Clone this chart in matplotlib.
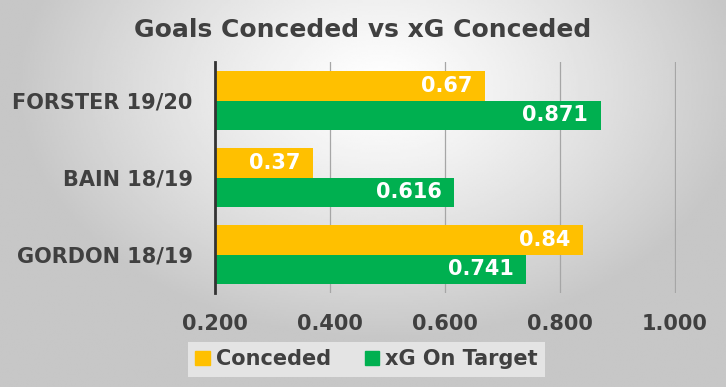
import numpy as np
import matplotlib
matplotlib.use('Agg')
import matplotlib.pyplot as plt
from matplotlib.patches import Patch

players = ['GORDON 18/19', 'BAIN 18/19', 'FORSTER 19/20']
conceded = [0.84, 0.37, 0.67]
xg_on_target = [0.741, 0.616, 0.871]
xticks = [0.2, 0.4, 0.6, 0.8, 1.0]

yellow = '#FFC000'
green = '#00B050'
txt = '#404040'

plt.rcParams['font.family'] = 'DejaVu Sans'
plt.rcParams['font.weight'] = 'bold'

fig = plt.figure(figsize=(7.26, 3.87), dpi=100)

# grey radial background, brightest near top centre
bg = fig.add_axes([0, 0, 1, 1], zorder=-10)
gx, gy = np.meshgrid(np.linspace(-1, 1, 400), np.linspace(-1, 1, 220))
r = np.sqrt(((gx - 0.05) / 1.0) ** 2 + ((gy + 0.55) / 1.3) ** 2)
shade = np.clip(1.0 - 0.22 * r ** 1.2, 0.78, 1.0)
bg.imshow(shade, cmap='gray', vmin=0, vmax=1, aspect='auto', extent=[0, 1, 0, 1])
bg.axis('off')

ax = fig.add_axes([215 / 726, 1 - 293 / 387, (676 - 215) / 726, 231 / 387])
ax.patch.set_alpha(0)

y = np.arange(len(players))
h = 0.38
b1 = ax.barh(y + h / 2, conceded, height=h, color=yellow, label='Conceded', zorder=3)
b2 = ax.barh(y - h / 2, xg_on_target, height=h, color=green, label='xG On Target', zorder=3)

for bars, vals in [(b1, conceded), (b2, xg_on_target)]:
    for bar, v in zip(bars, vals):
        ax.annotate(f'{v:g}', (v, bar.get_y() + bar.get_height() / 2),
                    xytext=(-9, 0), textcoords='offset points', ha='right', va='center',
                    color='white', fontsize=15, fontweight='bold', zorder=4)

ax.set_xlim(0.2, 1.002)
ax.set_ylim(-0.5, 2.5)
ax.set_xticks(xticks)
ax.set_xticklabels([f'{t:.3f}' for t in xticks])
ax.set_yticks(y)
ax.set_yticklabels(players)
ax.tick_params(axis='x', length=0, pad=15, labelsize=15, labelcolor=txt)
ax.tick_params(axis='y', length=0, pad=16, labelsize=15, labelcolor=txt)
ax.grid(axis='x', color='#a6a6a6', linewidth=0.9, zorder=0)
for s in ['top', 'right', 'bottom']:
    ax.spines[s].set_visible(False)
ax.spines['left'].set_color('#333333')
ax.spines['left'].set_linewidth(2)
ax.spines['left'].set_zorder(5)

fig.text(0.5, 1 - 30 / 387, 'Goals Conceded vs xG Conceded', ha='center', va='center',
         fontsize=18, fontweight='bold', color=txt)

handles = [Patch(color=yellow), Patch(color=green)]
leg = fig.legend(handles, ['Conceded', 'xG On Target'], loc='lower center',
                 bbox_to_anchor=(0.505, 0.0), ncol=2, frameon=True, fancybox=False,
                 fontsize=15, handlelength=0.7, handleheight=0.7, handletextpad=0.3,
                 columnspacing=1.6, borderpad=0.35)
leg.get_frame().set_facecolor('#ececec')
leg.get_frame().set_edgecolor('none')
leg.get_frame().set_alpha(0.8)
for t in leg.get_texts():
    t.set_color(txt)

fig.savefig('out.png', dpi=100)
